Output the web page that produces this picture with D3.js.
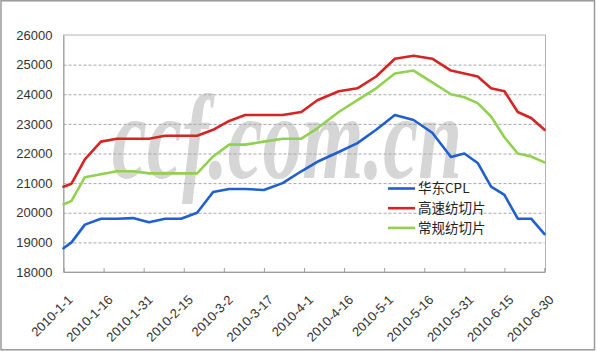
<!DOCTYPE html>
<html>
<head>
<meta charset="utf-8">
<script src="https://cdn.jsdelivr.net/npm/d3@7"></script>
<style>
  body { margin: 0; background: #fff; }
  svg { display: block; }
</style>
</head>
<body>
<div id="chart"></div>
<script>
// sample dates (y-m-d) and the three price series
const dates = ["2010-1-1", "2010-1-4", "2010-1-9", "2010-1-15", "2010-1-21", "2010-1-27",
    "2010-2-2", "2010-2-8", "2010-2-14", "2010-2-20", "2010-2-26", "2010-3-4", "2010-3-10",
    "2010-3-17", "2010-3-24", "2010-3-31", "2010-4-6", "2010-4-14", "2010-4-21", "2010-4-28",
    "2010-5-5", "2010-5-12", "2010-5-19", "2010-5-26", "2010-5-31", "2010-6-5", "2010-6-10",
    "2010-6-15", "2010-6-20", "2010-6-25", "2010-6-30"]

const cpl = [18800, 19000, 19600, 19800, 19800, 19820, 19680, 19800, 19800, 20000, 20700,
    20800, 20800, 20770, 21000, 21400, 21720, 22050, 22350, 22800, 23300, 23130, 22700,
    21880, 22000, 21680, 20880, 20600, 19800, 19800, 19280]
const highSpeed = [20880, 20980, 21800, 22400, 22500, 22500, 22500, 22600, 22600, 22600, 22800,
    23100, 23300, 23300, 23300, 23400, 23800, 24100, 24200, 24600, 25200, 25300, 25200,
    24800, 24700, 24600, 24200, 24100, 23400, 23200, 22800]
const regular = [20280, 20400, 21200, 21300, 21400, 21400, 21330, 21330, 21330, 21330, 21900,
    22300, 22300, 22400, 22500, 22500, 22850, 23400, 23800, 24200, 24700, 24800, 24400,
    24000, 23900, 23700, 23250, 22550, 22000, 21900, 21700]

const seriesNames = ["华东CPL", "高速纺切片", "常规纺切片"]
const seriesColors = ["#1f5fd0", "#d42424", "#92d050"]

const xTickLabels = ["2010-1-1", "2010-1-16", "2010-1-31", "2010-2-15", "2010-3-2", "2010-3-17",
    "2010-4-1", "2010-4-16", "2010-5-1", "2010-5-16", "2010-5-31", "2010-6-15", "2010-6-30"]
const yTicks = [18000, 19000, 20000, 21000, 22000, 23000, 24000, 25000, 26000]

const W = 596, H = 351
const plot = {left: 63.5, right: 544.5, top: 35, bottom: 272}

function parseDate(s) {
    const p = s.split("-").map(Number)
    return new Date(p[0], p[1] - 1, p[2])
}

const svg = d3.select("#chart").append("svg")
    .attr("width", W)
    .attr("height", H)

// outer frame
svg.append("rect")
    .attr("x", 1).attr("y", 0.8)
    .attr("width", 593.5).attr("height", 349)
    .attr("fill", "#fff")
    .attr("stroke", "#999")
    .attr("stroke-width", 1.5)

const x = d3.scaleTime()
    .domain([parseDate(xTickLabels[0]), parseDate(xTickLabels[xTickLabels.length - 1])])
    .range([plot.left, plot.right])

const y = d3.scaleLinear()
    .domain([18000, 26000])
    .range([plot.bottom, plot.top])

// watermark behind the lines
svg.append("text")
    .attr("x", 112)
    .attr("y", 178)
    .attr("textLength", 350)
    .attr("lengthAdjust", "spacingAndGlyphs")
    .attr("font-family", "Liberation Serif, DejaVu Serif, serif")
    .attr("font-style", "italic")
    .attr("font-weight", "bold")
    .attr("font-size", 120)
    .attr("fill", "#d6d6d6")
    .text("ccf.com.cn")

// dashed gridlines
svg.append("g")
    .selectAll("line")
    .data(yTicks.filter(d => d > 18000 && d < 26000))
    .join("line")
    .attr("x1", plot.left).attr("x2", plot.right)
    .attr("y1", d => y(d) + 0.5).attr("y2", d => y(d) + 0.5)
    .attr("stroke", "#a6a6a6")
    .attr("stroke-dasharray", "3,2")

// plot box
svg.append("rect")
    .attr("x", plot.left).attr("y", plot.top)
    .attr("width", plot.right - plot.left + 1).attr("height", plot.bottom - plot.top)
    .attr("fill", "none")
    .attr("stroke", "#b3b3b3")

// y axis labels
const yAxis = svg.append("g")
    .attr("transform", `translate(${plot.left},0)`)
    .call(d3.axisLeft(y).tickValues(yTicks).tickSize(0).tickPadding(11).tickFormat(d3.format("d")))
yAxis.select(".domain").attr("stroke", "#a0a0a0")
yAxis.selectAll("text")
    .attr("font-family", "Liberation Sans, Arial, sans-serif")
    .attr("font-size", 13)
    .attr("fill", "#333")

// x axis: inward ticks, rotated labels
const xAxis = svg.append("g")
    .attr("transform", `translate(0,${plot.bottom})`)
    .call(d3.axisBottom(x).tickValues(xTickLabels.map(parseDate)).tickSize(-4).tickFormat(""))
xAxis.select(".domain").attr("stroke", "#a0a0a0")
xAxis.selectAll(".tick line").attr("stroke", "#a0a0a0")

svg.append("g")
    .selectAll("text")
    .data(xTickLabels)
    .join("text")
    .attr("transform", d => `translate(${x(parseDate(d)) + 3.5},294) rotate(-45)`)
    .attr("dy", "0.71em")
    .attr("text-anchor", "end")
    .attr("font-family", "Liberation Sans, Arial, sans-serif")
    .attr("font-size", 13)
    .attr("fill", "#333")
    .text(d => d)

// lines
const line = d3.line()
    .x((d, i) => x(parseDate(dates[i])))
    .y(d => y(d))

const allSeries = [cpl, highSpeed, regular]
svg.append("g")
    .selectAll("path")
    .data(allSeries)
    .join("path")
    .attr("d", line)
    .attr("fill", "none")
    .attr("stroke", (d, i) => seriesColors[i])
    .attr("stroke-width", 2.6)
    .attr("stroke-linejoin", "round")
    .attr("stroke-linecap", "round")

// legend
const legend = svg.append("g")
    .selectAll("g")
    .data(seriesNames)
    .join("g")
    .attr("transform", (d, i) => `translate(388,${188.5 + i * 19.7})`)

legend.append("line")
    .attr("x1", 0).attr("x2", 27)
    .attr("stroke", (d, i) => seriesColors[i])
    .attr("stroke-width", 2.6)

legend.append("text")
    .attr("x", 30)
    .attr("dy", "0.36em")
    .attr("font-family", "Noto Sans CJK SC, sans-serif")
    .attr("font-size", 13.5)
    .attr("fill", "#222")
    .text(d => d)
</script>
</body>
</html>
